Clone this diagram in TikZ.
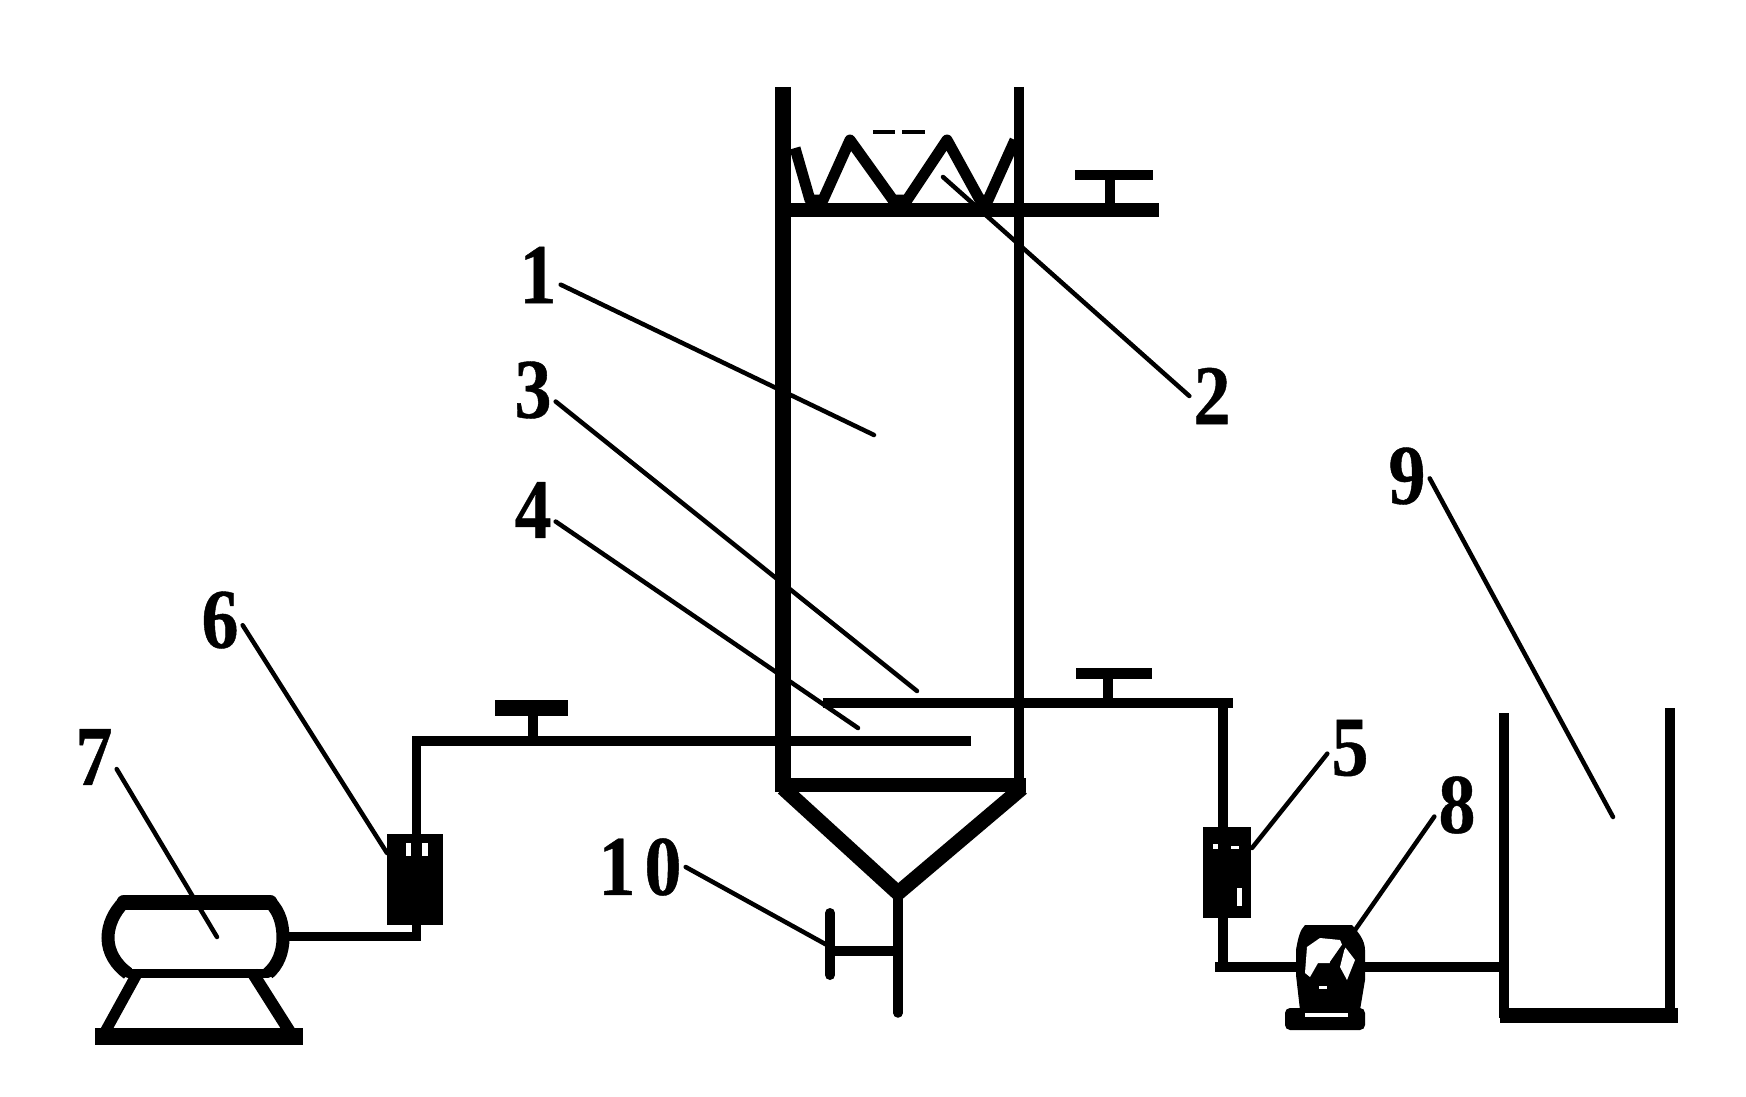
\documentclass[tikz,border=0pt]{standalone}
\usepackage{fontspec}
\newfontfamily\partfont[FakeStretch=0.87,FakeBold=0.5]{Liberation Serif}
\begin{document}
\begin{tikzpicture}[x=1pt,y=-1pt,
	pipe/.style={line width=9.5pt},
	wall/.style={line width=15pt},
	leader/.style={line width=4.5pt,line cap=round},
	partno/.style={inner sep=4pt,font=\partfont\bfseries\fontsize{85}{85}\selectfont},
	meter/.style={fill=black,inner sep=0pt,minimum width=#1,minimum height=91pt}]
	\useasboundingbox (0,0) rectangle (1746,1097);
	%column
	\draw[line width=16pt] (783,87) -- (783,792);
	\draw[pipe] (1019,87) -- (1019,785);
	\draw[line width=14pt] (775,785) -- (1026,785);
	\draw[line width=15pt,line join=round] (783,788) -- (898,893) -- (1022,788);
	\draw[wall,line width=14pt] (783,210) -- (1159,210);
	%packing
	\draw[line width=11pt,line join=round] (795,148) -- (810,200) -- (823,200) -- (850,140) -- (893,200) -- (907,200) -- (947,140) -- (980,200) -- (988,200) -- (1015,140);
	\foreach \xa/\xb in {873/895,902/925}
	\draw[line width=4pt] (\xa,132) -- (\xb,132);
	%valves
	\foreach \xa/\xb/\yb/\xs/\ys/\w in {1075/1153/175/1110/210/10,1076/1152/673/1108/703/11,495/568/708/533/741/16}{
		\draw[line width=\w pt] (\xa,\yb) -- (\xb,\yb);
		\draw[line width=10pt] (\xs,\yb) -- (\xs,\ys);
	}
	%flowmeters
	\node[meter=56pt] (fmsix) at (415,879.5) {};
	\node[meter=48pt] (fmfive) at (1227,872.5) {};
	\foreach \xa/\ya/\xb/\yb in {406/843/411/856,422/843/428/856,1213/844/1218/849,1231/846/1239/849,1237/888/1242/906}
	\fill[white] (\xa,\ya) rectangle (\xb,\yb);
	%air side
	\coordinate (airend) at (971,741);
	\coordinate (aircorner) at (416.5,741);
	\coordinate (tankout) at (287,936.5);
	\draw[pipe] (airend) -- (aircorner) -- (aircorner |- fmsix.north);
	\draw[pipe] (tankout) -- (416.5,936.5) -- (fmsix.south -| aircorner);
	%tank on stand
	\draw[line width=13pt] (124,902) .. controls (114,912) and (108,925) .. (108,938) .. controls (108,952) and (116,965) .. (128,973.5);
	\draw[line width=13pt] (270,902) .. controls (280,912) and (283,925) .. (283,938) .. controls (283,952) and (278,965) .. (268,973.5);
	\draw[wall,line cap=round] (124,902) -- (270,902);
	\draw[pipe,line cap=round] (128,973.5) -- (268,973.5);
	\draw[line width=11pt] (138,972) -- (105,1032);
	\draw[line width=12pt] (252,972) -- (290,1032);
	\fill (95,1028) rectangle (303,1045);
	%liquid side
	\coordinate (inletend) at (823,703);
	\coordinate (inletcorner) at (1223,703);
	\coordinate (pumpin) at (1296,967);
	\coordinate (pumpout) at (1504,967);
	\draw[pipe] (inletend) -- (1233,703);
	\draw[pipe] (inletcorner) -- (inletcorner |- fmfive.north);
	\draw[pipe] (fmfive.south -| inletcorner) -- (1223,972);
	\draw[pipe] (1215,967) -- (pumpin);
	\draw[pipe] (1360,967) -- (pumpout);
	%pump
	\fill (1300,1010) -- (1296,975) -- (1296,950) .. controls (1298,938) and (1300,930) .. (1305,925) -- (1352,925) .. controls (1358,932) and (1365,940) .. (1365,950) -- (1365,980) -- (1360,1010) -- cycle;
	\fill[rounded corners=5pt] (1285,1008) rectangle (1365,1030);
	\fill[white] (1307,947) -- (1320,938) -- (1340,940) -- (1343,947) -- (1330,963) -- (1318,963) -- (1310,977) -- (1305,973) -- cycle;
	\fill[white] (1345,947) -- (1355,960) -- (1347,980) -- (1340,967) -- cycle;
	\fill[white] (1305,1013) rectangle (1348,1017);
	\fill[white] (1319,986) rectangle (1327,989);
	%storage tank
	\draw[pipe] (1504,713) -- (1504,1018);
	\draw[pipe] (1670,708) -- (1670,1018);
	\draw[line width=15pt] (1500,1015) -- (1678,1015);
	%part numbers
	\foreach \i/\lx/\ly in {1/538/275,2/1212/396,3/533/390,4/533/510,5/1350/748,6/220/620,7/94/757,8/1457/805,9/1407/476}
	\node[partno] (lab\i) at (\lx,\ly) {\i};
	\node[partno] (lab10) at (640,867) {1\kern9pt0};
	%leaders
	\foreach \i/\a/\ex/\ey in {1/-23/874/435,2/180/943/177,3/-27/917/691,4/-27/858/728,5/194/1252/848,6/-13/387/853,7/-28/217/937,8/207/1332/963,9/-6/1613/817,10/0/827/945}{
		\coordinate (tip\i) at (\ex,\ey);
		\draw[leader] (lab\i.\a) -- (tip\i);
	}
	%drain
	\draw[pipe,line cap=round] (898,895) -- (898,1013);
	\draw[pipe] (830,951) -- (898,951);
	\draw[line width=10pt,line cap=round] (830,913) -- (830,975);
\end{tikzpicture}
\end{document}
